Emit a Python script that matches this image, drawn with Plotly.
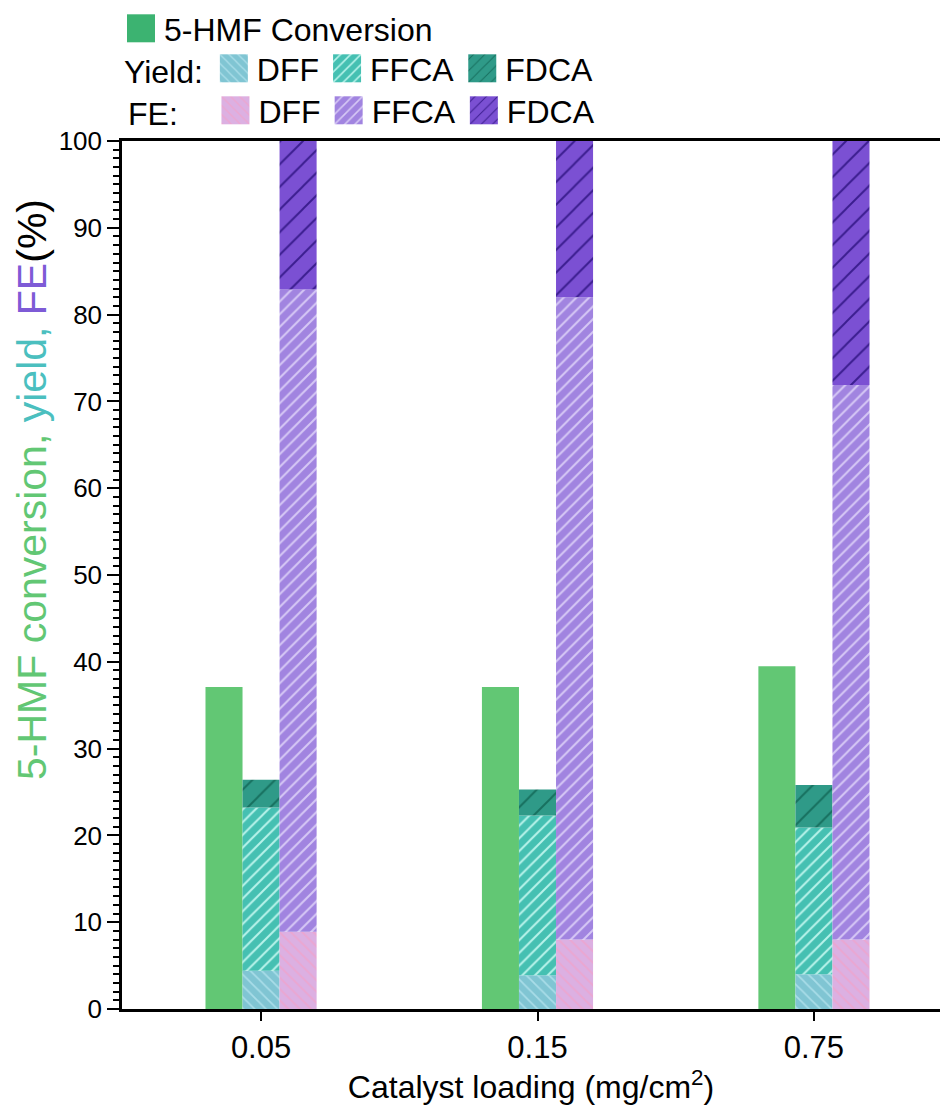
import numpy as np
import plotly.graph_objects as go

loading = ["0.05", "0.15", "0.75"]
conversion = [37.1, 37.1, 39.5]
yield_dff = [4.4, 3.9, 4.0]
yield_ffca = [18.8, 18.4, 16.9]
yield_fdca = [3.2, 3.0, 4.9]
fe_dff = [8.9, 8.0, 8.0]
fe_ffca = [74.0, 74.0, 63.9]
fe_fdca = [17.1, 18.0, 28.1]

FONT = "Liberation Sans, Arial, sans-serif"
W = 0.134

# plot area in pixels (for placing legends / annotation in paper coords)
PL, PR, PT, PB = 122, 940, 141, 1009
def px(x):
    return (x - PL) / (PR - PL)
def py(y):
    return (PB - y) / (PB - PT)

fig = go.Figure()

def add_bar(y, base, offset, bg, fg, shape, size, sol, name, legend):
    pattern = dict(shape=shape, bgcolor=bg, fgcolor=fg, size=size, solidity=sol,
                   fillmode="replace") if shape else None
    fig.add_trace(go.Bar(
        x=loading, y=y, base=base, width=W, offset=offset, name=name,
        marker=dict(color=bg, line=dict(width=0), pattern=pattern),
        legend=legend, showlegend=True))

add_bar(conversion, None, -0.201, "#62c774", None, None, 0, 0, "5-HMF Conversion", "legend")

yb1 = np.array(yield_dff)
yb2 = yb1 + np.array(yield_ffca)
add_bar(yield_dff, [0, 0, 0], -0.067, "#80c5d3", "#a9dde8", "\\", 8, 0.22, "DFF", "legend2")
add_bar(yield_ffca, yb1, -0.067, "#45c0b2", "#b8f3ea", "/", 9, 0.22, "FFCA", "legend2")
add_bar(yield_fdca, yb2, -0.067, "#2f9a88", "#17705f", "/", 16, 0.12, "FDCA", "legend2")

fb1 = np.array(fe_dff)
fb2 = fb1 + np.array(fe_ffca)
add_bar(fe_dff, [0, 0, 0], 0.067, "#dcb0e2", "#eca6d0", "\\", 8, 0.22, "DFF", "legend3")
add_bar(fe_ffca, fb1, 0.067, "#a184e0", "#d6c8f5", "/", 9, 0.22, "FFCA", "legend3")
add_bar(fe_fdca, fb2, 0.067, "#7b50d3", "#3b1d8f", "/", 16, 0.12, "FDCA", "legend3")

leg_common = dict(orientation="h", xref="paper", yref="paper",
                  xanchor="left", yanchor="top", bgcolor="rgba(0,0,0,0)",
                  font=dict(family=FONT, size=32, color="black"), itemwidth=36,
                  itemclick=False, itemdoubleclick=False, tracegroupgap=0)
title_font = dict(family=FONT, size=32, color="black")

fig.update_layout(
    width=940, height=1106,
    margin=dict(l=PL, r=940 - PR, t=PT, b=1106 - PB, autoexpand=False),
    paper_bgcolor="white", plot_bgcolor="white",
    barmode="overlay", showlegend=True,
    font=dict(family=FONT, color="black"),
    legend=dict(x=px(118), y=py(1), **leg_common),
    legend2=dict(x=px(122), y=py(41),
                 title=dict(text="Yield:", side="left", font=title_font),
                 **leg_common),
    legend3=dict(x=px(126), y=py(83),
                 title=dict(text="FE:\u00a0\u00a0\u00a0", side="left", font=title_font),
                 **leg_common),
    xaxis=dict(type="category", range=[-0.503, 2.456], showline=True, linewidth=2.5,
               linecolor="black", mirror=True, ticks="outside", ticklen=9, tickwidth=2,
               tickcolor="black", showgrid=False, zeroline=False,
               tickfont=dict(family=FONT, size=31, color="black"),
               title=dict(text="Catalyst loading (mg/cm<sup>2</sup>)", standoff=0,
                          font=dict(family=FONT, size=32, color="black"))),
    yaxis=dict(range=[0, 100], dtick=10, showline=True, linewidth=2.5, linecolor="black",
               ticks="outside", ticklen=12, tickwidth=2, tickcolor="black",
               showgrid=False, zeroline=False,
               tickfont=dict(family=FONT, size=26, color="black"),
               minor=dict(dtick=1, ticks="outside", ticklen=6, tickwidth=1.5,
                          tickcolor="black", showgrid=False)),
    annotations=[dict(
        text=("<span style='color:#62c774'>5-HMF conversion, </span>"
              "<span style='color:#4bbfbf'>yield, </span>"
              "<span style='color:#7e5bd6'>FE</span>(%)"),
        textangle=-90, xref="paper", yref="paper",
        x=px(32), y=py(490), xanchor="center", yanchor="middle",
        showarrow=False, font=dict(family=FONT, size=41, color="black"))],
)

# enlarge legend swatches to match the reference's big square keys
post = """
var gd = document.getElementById('{plot_id}');
gd.querySelectorAll('.legendpoints path').forEach(function(p){
  p.setAttribute('d', 'M14,14H-14V-14H14Z');
});
var g1 = gd.querySelector('g.legend .legendpoints path');
if (g1) { g1.style.fill = '#3cb371'; }
"""

fig.write_html("out.html", post_script=post)
